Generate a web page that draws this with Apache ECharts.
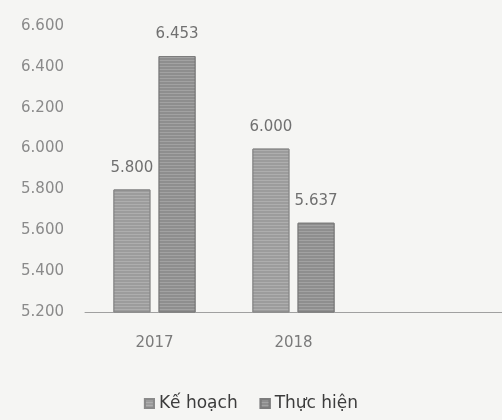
<!DOCTYPE html>
<html>
<head>
<meta charset="utf-8">
<script src="https://cdn.jsdelivr.net/npm/echarts@6/dist/echarts.min.js"></script>
<style>
  html, body { margin: 0; padding: 0; background: #f5f5f3; }
  #chart { width: 502px; height: 420px; }
</style>
</head>
<body>
<div id="chart"></div>
<script>
// du lieu
const categories = ["2017", "2018", ""];
const keHoach = [5800, 6000, null];
const thucHien = [6453, 5637, null];
const seriesNames = ["Kế hoạch", "Thực hiện"];

// 5800 -> "5.800"
function fmt(v) {
  return String(v).replace(/\B(?=(\d{3})+(?!\d))/g, ".");
}

const stripes = {
  symbol: "rect",
  dashArrayX: [1, 0],
  dashArrayY: [1, 2],
  rotation: 0,
  color: "rgba(255,255,255,0.18)"
};

const chart = echarts.init(document.getElementById("chart"));

chart.setOption({
  backgroundColor: "#f5f5f3",
  textStyle: { fontFamily: "DejaVu Sans" },
  grid: { left: 85, right: 0, top: 26, bottom: 108 },
  legend: {
    data: seriesNames,
    bottom: 3,
    left: "center",
    itemWidth: 9,
    itemHeight: 9,
    itemGap: 22,
    icon: "rect",
    textStyle: { fontSize: 17, color: "#3c3c3c" }
  },
  xAxis: {
    type: "category",
    data: categories,
    axisLine: { lineStyle: { color: "#a0a0a0", width: 1 } },
    axisTick: { show: false },
    axisLabel: { fontSize: 15, color: "#7a7a7a", margin: 24 }
  },
  yAxis: {
    type: "value",
    min: 5200,
    max: 6600,
    interval: 200,
    axisLine: { show: false },
    axisTick: { show: false },
    splitLine: { show: false },
    axisLabel: { fontSize: 15, color: "#8a8a8a", margin: 21, formatter: fmt }
  },
  series: [
    {
      name: seriesNames[0],
      type: "bar",
      data: keHoach,
      barWidth: 37,
      barGap: "22%",
      itemStyle: { color: "#9c9c9c", borderColor: "#8a8a8a", borderWidth: 1, decal: stripes },
      label: {
        show: true,
        position: "top",
        distance: 14,
        fontSize: 15,
        color: "#707070",
        formatter: p => fmt(p.value)
      }
    },
    {
      name: seriesNames[1],
      type: "bar",
      data: thucHien,
      barWidth: 37,
      itemStyle: { color: "#8e8e8e", borderColor: "#7c7c7c", borderWidth: 1, decal: stripes },
      label: {
        show: true,
        position: "top",
        distance: 14,
        fontSize: 15,
        color: "#707070",
        formatter: p => fmt(p.value)
      }
    }
  ]
});
</script>
</body>
</html>
